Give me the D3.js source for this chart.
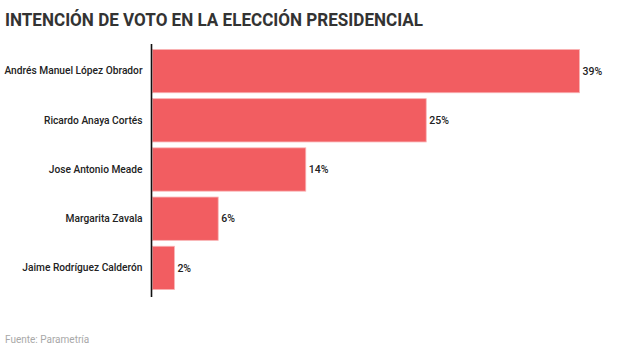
<!DOCTYPE html>
<html><head><meta charset="utf-8">
<script src="https://cdn.jsdelivr.net/npm/d3@7"></script>
<style>body{margin:0;background:#fff;}svg{display:block;font-family:Roboto,sans-serif;}</style>
</head><body>
<script>
const categories = ["Andrés Manuel López Obrador","Ricardo Anaya Cortés","Jose Antonio Meade","Margarita Zavala","Jaime Rodríguez Calderón"];
const values = [39,25,14,6,2];
const title = "INTENCIÓN DE VOTO EN LA ELECCIÓN PRESIDENCIAL";
const source = "Fuente: Parametría";

const W=620,H=358;
const svg=d3.select("body").append("svg").attr("width",W).attr("height",H);
const x0=152.5;
const x=d3.scaleLinear().domain([0,39]).range([x0,579.5]);
const y=d3.scaleBand().domain(categories).range([46.5,292.5]).paddingInner(0.12).paddingOuter(0.06);

svg.append("text").attr("x",5).attr("y",25.5).text(title)
  .attr("font-size",19).attr("font-weight",700).attr("fill","#333")
  .attr("textLength",418).attr("lengthAdjust","spacingAndGlyphs");

svg.selectAll("rect.bar").data(values).join("rect").attr("class","bar")
  .attr("x",x0).attr("y",(d,i)=>y(categories[i]))
  .attr("width",d=>x(d)-x0).attr("height",y.bandwidth())
  .attr("fill","#f25d61").attr("stroke","#f9b3b5").attr("stroke-width",0.8);

svg.selectAll("text.val").data(values).join("text").attr("class","val")
  .attr("x",d=>x(d)+3).attr("y",(d,i)=>y(categories[i])+y.bandwidth()/2)
  .attr("dy","0.35em").attr("font-size",10.5).attr("font-weight",500).attr("fill","#222").text(d=>d+"%");

const ax=d3.axisLeft(y).tickSize(0).tickPadding(9);
const g=svg.append("g").attr("transform",`translate(${x0-1},0)`).call(ax);
g.select(".domain").remove();
g.selectAll("text").attr("font-size",10.2).attr("font-weight",500).attr("fill","#222").attr("font-family","Roboto,sans-serif");
svg.append("line").attr("x1",x0-1).attr("x2",x0-1).attr("y1",44).attr("y2",297)
  .attr("stroke","#111").attr("stroke-width",1.6);

svg.append("text").attr("x",5).attr("y",343).text(source)
  .attr("font-size",10).attr("fill","#a8a8a8");
</script>
</body></html>
